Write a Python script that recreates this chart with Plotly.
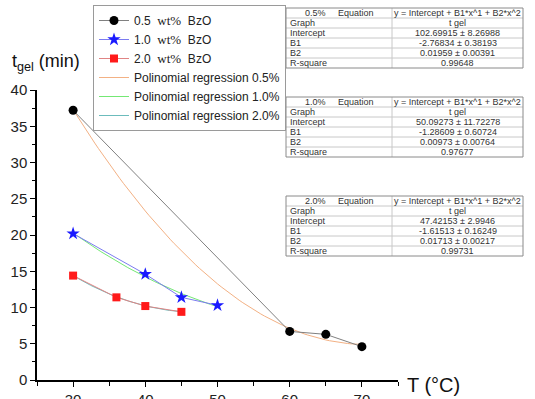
import numpy as np
import plotly.graph_objects as go

# ---------------- data ----------------
temp_05 = [30, 60, 65, 70]
tgel_05 = [37.2, 6.7, 6.3, 4.6]
temp_10 = [30, 40, 45, 50]
tgel_10 = [20.2, 14.6, 11.4, 10.3]
temp_20 = [30, 36, 40, 45]
tgel_20 = [14.4, 11.4, 10.2, 9.4]

# regression coefficients shown in the tables (Intercept, B1, B2)
coef_05 = [102.69915, -2.76834, 0.01959]
coef_10 = [50.09273, -1.28609, 0.00973]
coef_20 = [47.42153, -1.61513, 0.01713]

series_names = ["0.5", "1.0", "2.0"]
reg_names = ["Polinomial regression 0.5%", "Polinomial regression 1.0%", "Polinomial regression 2.0%"]

table_labels = ["Graph", "Intercept", "B1", "B2", "R-square"]
table_05 = ["t gel", "102.69915 \u00b1 8.26988", "-2.76834 \u00b1 0.38193", "0.01959 \u00b1 0.00391", "0.99648"]
table_10 = ["t gel", "50.09273 \u00b1 11.72278", "-1.28609 \u00b1 0.60724", "0.00973 \u00b1 0.00764", "0.97677"]
table_20 = ["t gel", "47.42153 \u00b1 2.9946", "-1.61513 \u00b1 0.16249", "0.01713 \u00b1 0.00217", "0.99731"]
equation_text = "y = Intercept + B1*x^1 + B2*x^2"

x_ticks = [30, 40, 50, 60, 70]
y_ticks = [0, 5, 10, 15, 20, 25, 30, 35, 40]

# ---------------- layout helpers ----------------
W, H = 535, 399
ML, MR, MT, MB = 37, 137, 90, 19
PW, PH = W - ML - MR, H - MT - MB
FONT = "Arial, Liberation Sans, sans-serif"

def px(x):
    return (x - ML) / PW

def py(y):
    return (H - MB - y) / PH

fig = go.Figure()

def poly_curve(coef, x0, x1):
    xs = np.linspace(x0, x1, 81)
    ys = coef[0] + coef[1] * xs + coef[2] * xs ** 2
    return xs, ys

reg_colors = ["#f3b184", "#74e874", "#6cbcbc"]
reg_coefs = [coef_05, coef_10, coef_20]
reg_ranges = [(temp_05[0], temp_05[-1]), (temp_10[0], temp_10[-1]), (temp_20[0], temp_20[-1])]
for i in range(3):
    xs, ys = poly_curve(reg_coefs[i], *reg_ranges[i])
    fig.add_trace(go.Scatter(x=xs, y=ys, mode="lines", name=reg_names[i],
                             line=dict(color=reg_colors[i], width=1),
                             legendrank=4 + i))

wt = "<span style='font-family:Liberation Serif, Times New Roman, serif;font-size:13px'>wt%</span>"
labels = [f"{s}\u00a0\u00a0{wt}\u00a0\u00a0BzO" for s in series_names]
data_x = [temp_05, temp_10, temp_20]
data_y = [tgel_05, tgel_10, tgel_20]
line_colors = ["#808080", "#7b7bf0", "#e08484"]
mk = [dict(symbol="circle", color="black", size=9),
      dict(symbol="star", color="#1a1aff", size=10),
      dict(symbol="square", color="#ff1a1a", size=8)]
for i in range(3):
    fig.add_trace(go.Scatter(x=data_x[i], y=data_y[i], mode="lines+markers", name=labels[i],
                             line=dict(color=line_colors[i], width=1),
                             marker=mk[i], legendrank=1 + i))

# ---------------- tables ----------------
shapes = []
annotations = []

def draw_table(top, bottom, pct, values):
    left, right, split = 286, 523, 392
    nrow = 6
    rh = (bottom - top) / nrow
    for r in range(1, nrow):
        yy = top + r * rh
        shapes.append(dict(type="line", xref="paper", yref="paper",
                           x0=px(left), x1=px(right), y0=py(yy), y1=py(yy),
                           line=dict(color="#c8c8c8", width=1)))
    shapes.append(dict(type="line", xref="paper", yref="paper",
                       x0=px(split), x1=px(split), y0=py(top), y1=py(bottom),
                       line=dict(color="#c8c8c8", width=1)))
    shapes.append(dict(type="rect", xref="paper", yref="paper",
                       x0=px(left), x1=px(right), y0=py(top), y1=py(bottom),
                       line=dict(color="#8a8a8a", width=1)))
    f = dict(family=FONT, size=9, color="#333333")
    yc = top + rh / 2
    annotations.append(dict(xref="paper", yref="paper", x=px((left + split) / 2), y=py(yc),
                            text=f"{pct}%\u00a0\u00a0\u00a0\u00a0\u00a0Equation", showarrow=False,
                            xanchor="center", yanchor="middle", font=f))
    annotations.append(dict(xref="paper", yref="paper", x=px((split + right) / 2), y=py(yc),
                            text=equation_text, showarrow=False,
                            xanchor="center", yanchor="middle", font=f))
    for r in range(5):
        yc = top + (r + 1.5) * rh
        annotations.append(dict(xref="paper", yref="paper", x=px(left + 2), y=py(yc),
                                text=table_labels[r], showarrow=False,
                                xanchor="left", yanchor="middle", font=f))
        annotations.append(dict(xref="paper", yref="paper", x=px((split + right) / 2), y=py(yc),
                                text=values[r], showarrow=False,
                                xanchor="center", yanchor="middle", font=f))

draw_table(8, 68, series_names[0], table_05)
draw_table(97, 157, series_names[1], table_10)
draw_table(196, 256, series_names[2], table_20)

annotations.append(dict(xref="paper", yref="paper", x=px(10), y=py(62), text="t<sub>gel</sub> (min)",
                        showarrow=False, xanchor="left", yanchor="middle",
                        font=dict(family=FONT, size=18, color="#111111")))
annotations.append(dict(xref="paper", yref="paper", x=px(405), y=py(385), text="T (\u00b0C)",
                        showarrow=False, xanchor="left", yanchor="middle",
                        font=dict(family=FONT, size=20, color="#111111")))

fig.update_layout(
    width=W, height=H,
    margin=dict(l=ML, r=MR, t=MT, b=MB, pad=0, autoexpand=False),
    paper_bgcolor="white", plot_bgcolor="white",
    font=dict(family=FONT, color="#222222"),
    shapes=shapes, annotations=annotations,
    showlegend=True,
    legend=dict(x=px(93), y=py(5), xanchor="left", yanchor="top",
                bordercolor="#9a9a9a", borderwidth=1, bgcolor="white",
                font=dict(family=FONT, size=12, color="#222222"),
                tracegroupgap=0, itemwidth=30),
    xaxis=dict(range=[25, 75], tickvals=x_ticks, ticks="outside", ticklen=5, tickwidth=1,
               tickcolor="black", showline=True, linecolor="black", linewidth=1.5,
               showgrid=False, zeroline=False, tickfont=dict(size=15, color="#222222"),
               minor=dict(ticks="outside", dtick=5, tick0=25, ticklen=4, tickcolor="black", showgrid=False),
               automargin=False),
    yaxis=dict(range=[0, 40], tickvals=y_ticks, ticks="outside", ticklen=5, tickwidth=1,
               tickcolor="black", showline=True, linecolor="black", linewidth=1.5,
               showgrid=False, zeroline=False, tickfont=dict(size=15, color="#222222"),
               minor=dict(ticks="outside", dtick=2.5, tick0=0, ticklen=3, tickcolor="black", showgrid=False),
               automargin=False),
)

fig.write_html("out.html", config={"displayModeBar": False},
               post_script="document.body.style.margin='0';")
